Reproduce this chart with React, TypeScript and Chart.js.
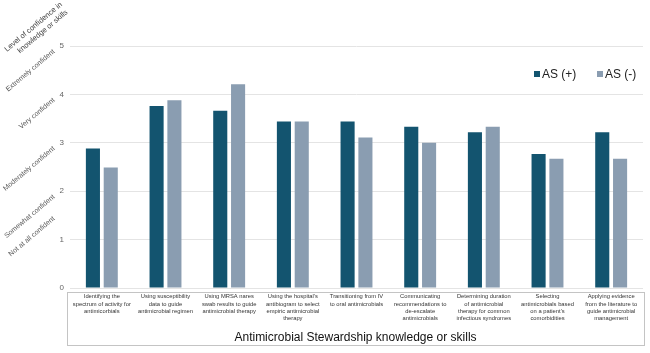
import React, { useEffect, useRef } from "react";
import { Chart, registerables } from "chart.js";

Chart.register(...registerables);

const categories: string[][] = [
  ["Identifying the", "spectrum of activity for", "antimicorbials"],
  ["Using susceptibility", "data to guide", "antimicrobial regimen"],
  ["Using MRSA nares", "swab results to guide", "antimicrobial therapy"],
  ["Using the hospital's", "antibiogram to select", "empiric antimicrobial", "therapy"],
  ["Transitioning from IV", "to oral antimicrobials"],
  ["Communicating", "recommendations to", "de-escalate", "antimicrobials"],
  ["Determining duration", "of antimicrobial", "therapy for common", "infectious syndromes"],
  ["Selecting", "antimicrobials based", "on a patient's", "comorbidities"],
  ["Applying evidence", "from the literature to", "guide antimicrobial", "management"],
];

const asPlus = [2.88, 3.76, 3.66, 3.44, 3.44, 3.33, 3.22, 2.77, 3.22];
const asMinus = [2.49, 3.88, 4.21, 3.44, 3.11, 3.0, 3.33, 2.67, 2.67];

const seriesNames = ["AS (+)", "AS (-)"];
const seriesColors = ["#13546f", "#8a9db1"];

const yTicks = [0, 1, 2, 3, 4, 5];
const confidenceLabels = [
  "Not at all confident",
  "Somewhat confident",
  "Moderately confident",
  "Very confident",
  "Extremely confident",
];
const confidenceAnchors = [1.45, 1.9, 2.9, 3.9, 4.9];
const yTitle = ["Level of confidence in", "knowledge or skills"];
const xTitle = "Antimicrobial Stewardship knowledge or skills";

const FONT = "'Liberation Sans', Arial, sans-serif";

const decorPlugin = {
  id: "decor",
  afterDraw(chart: any) {
    const ctx = chart.ctx;
    const y = chart.scales.y;
    const x = chart.scales.x;
    ctx.save();

    // y tick numbers
    ctx.fillStyle = "#666";
    ctx.font = `8px ${FONT}`;
    ctx.textAlign = "right";
    ctx.textBaseline = "middle";
    yTicks.forEach((t) => {
      ctx.fillText(String(t), 64, y.getPixelForValue(t));
    });

    // rotated confidence labels
    const ang = (-40 * Math.PI) / 180;
    ctx.fillStyle = "#555";
    ctx.font = `7px ${FONT}`;
    confidenceLabels.forEach((lab, i) => {
      const py = y.getPixelForValue(confidenceAnchors[i]);
      ctx.save();
      ctx.translate(54, py);
      ctx.rotate(ang);
      ctx.textAlign = "right";
      ctx.textBaseline = "middle";
      ctx.fillText(lab, 0, 0);
      ctx.restore();
    });

    // y title
    ctx.fillStyle = "#444";
    ctx.font = `7.5px ${FONT}`;
    ctx.save();
    ctx.translate(33.5, 27);
    ctx.rotate(ang);
    ctx.textAlign = "center";
    ctx.textBaseline = "middle";
    ctx.fillText(yTitle[0], 0, 0);
    ctx.fillText(yTitle[1], 4, 9.5);
    ctx.restore();

    // x box
    ctx.strokeStyle = "#c4c4c4";
    ctx.lineWidth = 1;
    ctx.strokeRect(67.5, 292.5, 577, 53);

    // category labels
    ctx.fillStyle = "#333";
    ctx.font = `5.8px ${FONT}`;
    ctx.textAlign = "center";
    ctx.textBaseline = "middle";
    categories.forEach((lines, i) => {
      const cx = x.getPixelForValue(i);
      lines.forEach((ln, j) => {
        ctx.fillText(ln, cx, 296.5 + j * 7.4);
      });
    });

    // x title
    ctx.fillStyle = "#111";
    ctx.font = `12px ${FONT}`;
    ctx.fillText(xTitle, (67 + 644) / 2, 337.5);

    // legend
    const ds = chart.data.datasets;
    let lx = 534;
    ctx.font = `12px ${FONT}`;
    ctx.textAlign = "left";
    ds.forEach((d: any) => {
      ctx.fillStyle = d.backgroundColor;
      ctx.fillRect(lx, 71, 6, 6);
      ctx.fillStyle = "#222";
      ctx.fillText(d.label, lx + 8, 74.5);
      lx += 63;
    });

    ctx.restore();
  },
};

export default function App() {
  const ref = useRef<HTMLCanvasElement>(null);
  useEffect(() => {
    document.body.style.margin = "0";
    const chart = new Chart(ref.current!, {
      type: "bar",
      data: {
        labels: categories.map((c) => c.join(" ")),
        datasets: [
          { label: seriesNames[0], data: asPlus, backgroundColor: seriesColors[0] },
          { label: seriesNames[1], data: asMinus, backgroundColor: seriesColors[1] },
        ],
      },
      options: {
        animation: false,
        responsive: false,
        maintainAspectRatio: false,
        layout: { padding: { left: 70, right: 7, top: 46, bottom: 65 } },
        datasets: {
          bar: { categoryPercentage: 0.56, barPercentage: 0.79 },
        },
        plugins: { legend: { display: false }, tooltip: { enabled: false } },
        scales: {
          x: {
            grid: { display: false, drawTicks: false },
            border: { display: false },
            ticks: { display: false },
            afterFit: (s: any) => {
              s.height = 0;
            },
          },
          y: {
            min: 0,
            max: 5,
            ticks: { display: false, stepSize: 1 },
            grid: { color: "#e4e4e4", drawTicks: false, lineWidth: 1 },
            border: { display: false },
            afterFit: (s: any) => {
              s.width = 0;
            },
          },
        },
      },
      plugins: [decorPlugin],
    });
    return () => chart.destroy();
  }, []);
  return (
    <div style={{ position: "absolute", left: 0, top: 0, width: 650, height: 353, background: "#fff" }}>
      <canvas ref={ref} width={650} height={353} />
    </div>
  );
}
